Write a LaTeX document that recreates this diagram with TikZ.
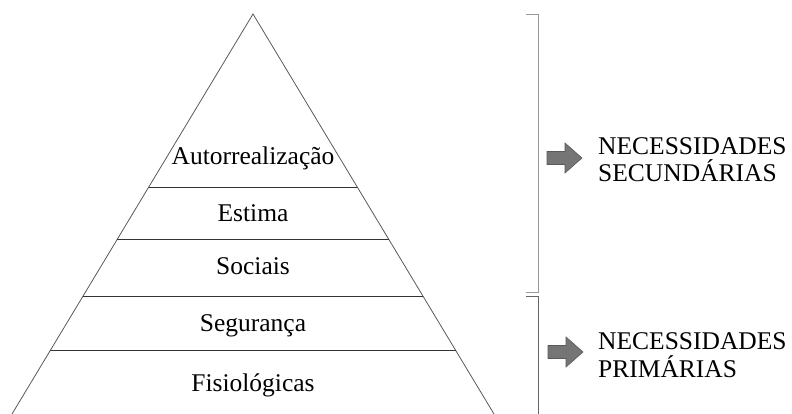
\documentclass[tikz,border=0pt]{standalone}
\usepackage{fontspec}
\setmainfont{Liberation Serif}
\begin{document}
\begin{tikzpicture}[x=1pt,y=-1pt,
  pyr/.style={draw=black!65,line width=0.8pt},
  lvl/.style={draw=black!80,line width=0.8pt},
  lbl/.style={font=\fontsize{25.5}{27.5}\selectfont,inner sep=0pt,anchor=base},
  side/.style={font=\fontsize{25.5}{27.5}\selectfont,inner sep=0pt,anchor=base west,align=left},
  brk/.style={line width=0.9pt},
  blockarrow/.style={fill=black!54,draw=black!65,line width=0.6pt,line join=miter}]
\useasboundingbox (0,0) rectangle (792,414);
% pyramid
\coordinate (apex) at (253,14);
\coordinate (bl) at (12,414);
\coordinate (br) at (494,414);
\draw[pyr] (bl) -- (apex) -- (br);
\draw[lvl] (148.7,187) coordinate (l1a) -- (357.3,187) coordinate (l1b);
\draw[lvl] (117.3,239) coordinate (l2a) -- (388.7,239) coordinate (l2b);
\draw[lvl] (83,296) coordinate (l3a) -- (423,296) coordinate (l3b);
\draw[lvl] (50.4,350) coordinate (l4a) -- (455.6,350) coordinate (l4b);
\node[lbl] (auto) at (253,165) {Autorrealização};
\node[lbl] (est) at (253,222) {Estima};
\node[lbl] (soc) at (253,274) {Sociais};
\node[lbl] (seg) at (253,331) {Segurança};
\node[lbl] (fis) at (253,391) {Fisiológicas};
% brackets
\draw[brk,draw=black!40] (526,14) coordinate (b1t) -- (538,14) -- (538,292) -- (526,292) coordinate (b1b);
\draw[brk,draw=black!60] (526,296) coordinate (b2t) -- (538,296) -- (538,414) coordinate (b2b);
% block arrows
\draw[blockarrow] (547,151.5) -- (565,151.5) -- (565,143) -- (582,158) -- (565,173) -- (565,164.5) -- (547,164.5) -- cycle;
\draw[blockarrow] (548,345.5) -- (566,345.5) -- (566,337) -- (583,352) -- (566,367) -- (566,358.5) -- (548,358.5) -- cycle;
\node[side] (sec) at (598,182) {NECESSIDADES\\SECUNDÁRIAS};
\node[side] (pri) at (598,377) {NECESSIDADES\\PRIMÁRIAS};
\end{tikzpicture}
\end{document}
